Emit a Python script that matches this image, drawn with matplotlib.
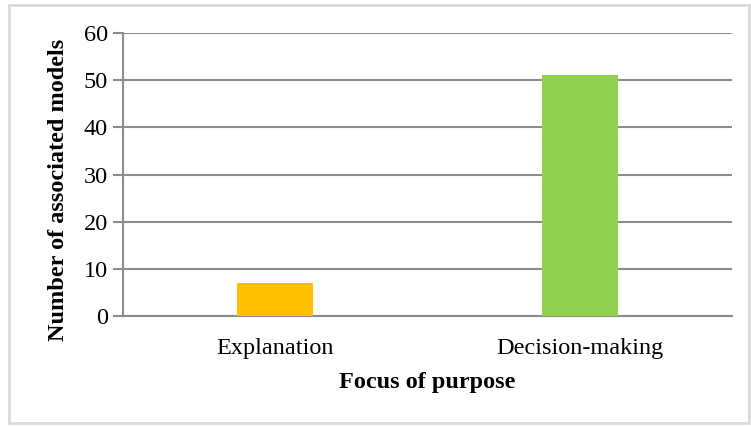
import matplotlib
matplotlib.use("Agg")
import matplotlib.pyplot as plt
from matplotlib.patches import Rectangle

# Number of models per focus of purpose
categories = ["Explanation", "Decision-making"]
model_counts = [7, 51]
bar_colors = ["#FFC000", "#92D050"]
y_ticks = [0, 10, 20, 30, 40, 50, 60]

plt.rcParams["font.family"] = ["Liberation Serif", "DejaVu Serif"]

fig = plt.figure(figsize=(7.51, 4.26), dpi=100)
ax = fig.add_axes([0.1638, 0.2582, 0.8109, 0.6643])

ax.bar(range(len(categories)), model_counts, width=0.25, color=bar_colors, zorder=3)

ax.set_xlim(-0.5, len(categories) - 0.5)
ax.set_ylim(0, 60)
ax.set_yticks(y_ticks)
ax.set_xticks(range(len(categories)))
ax.set_xticklabels(categories)

grid_color = "#8c8c8c"
ax.yaxis.grid(True, color=grid_color, linewidth=1.5, zorder=0)
ax.xaxis.grid(False)
for side in ["top", "right"]:
    ax.spines[side].set_visible(False)
ax.spines["left"].set_color(grid_color)
ax.spines["left"].set_linewidth(1.5)
ax.spines["bottom"].set_color(grid_color)
ax.spines["bottom"].set_linewidth(1.5)

ax.tick_params(axis="y", length=7, width=1.5, color=grid_color, labelsize=17.5, pad=4)
ax.tick_params(axis="x", length=0, labelsize=17.5, pad=16)

ax.set_ylabel("Number of associated models", fontsize=17.5, fontweight="bold")
ax.yaxis.set_label_coords(-0.088, 0.445)
ax.set_xlabel("Focus of purpose", fontsize=17.5, fontweight="bold", labelpad=9)

# light frame around the whole chart
fig.patches.append(Rectangle((0.012, 0.008), 0.985, 0.98, transform=fig.transFigure,
                             fill=False, edgecolor="#d9d9d9", linewidth=2))

fig.savefig("out.png", dpi=100)
